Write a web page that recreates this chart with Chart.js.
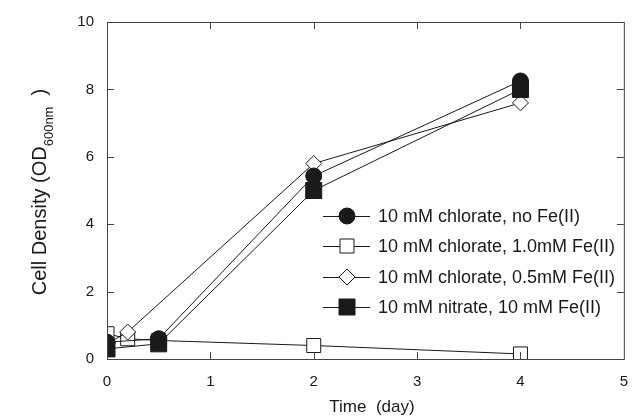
<!DOCTYPE html>
<html>
<head>
<meta charset="utf-8">
<script src="https://cdn.jsdelivr.net/npm/chart.js@4.4.0/dist/chart.umd.min.js"></script>
<style>
    html, body { margin: 0; padding: 0; background: #fff; }
    #wrap { width: 642px; height: 419px; }
</style>
</head>
<body>
<div id="wrap"><canvas id="chart"></canvas></div>
<script>
const xTicks = [0, 1, 2, 3, 4, 5];
const yTicks = [0, 2, 4, 6, 8, 10];

const seriesLabels = [
    "10 mM chlorate, no Fe(II)",
    "10 mM chlorate, 1.0mM Fe(II)",
    "10 mM chlorate, 0.5mM Fe(II)",
    "10 mM nitrate, 10 mM Fe(II)"
];

const noFeDays = [0, 0.5, 2, 4];
const noFeOD = [0.5, 0.6, 5.43, 8.25];

const fe10Days = [0, 0.2, 0.5, 2, 4];
const fe10OD = [0.75, 0.6, 0.55, 0.4, 0.15];

const fe05Days = [0, 0.2, 2, 4];
const fe05OD = [0.45, 0.8, 5.8, 7.6];

const nitrateDays = [0, 0.5, 2, 4];
const nitrateOD = [0.3, 0.45, 5.0, 8.0];

const ink = "#1a1a1a";
const fontFamily = "'Liberation Sans', Arial, sans-serif";

function toPoints(xs, ys) {
    return xs.map((x, i) => ({ x, y: ys[i] }));
}

const markers = [
    { style: "circle", fill: ink, size: 8 },
    { style: "rect", fill: "#fff", size: 7 },
    { style: "rectRot", fill: "#fff", size: 8 },
    { style: "rect", fill: ink, size: 8 }
];

const datasets = [
    toPoints(noFeDays, noFeOD),
    toPoints(fe10Days, fe10OD),
    toPoints(fe05Days, fe05OD),
    toPoints(nitrateDays, nitrateOD)
].map((data, i) => ({
    label: seriesLabels[i],
    data,
    borderColor: ink,
    borderWidth: 1,
    pointStyle: markers[i].style,
    pointRadius: markers[i].style === "rect" ? markers[i].size * Math.SQRT2 : markers[i].size,
    pointBackgroundColor: markers[i].fill,
    pointBorderColor: ink,
    pointBorderWidth: 1,
    order: [1, 3, 2, 0][i],
    tension: 0
}));

function drawMarker(ctx, m, x, y) {
    ctx.save();
    ctx.fillStyle = m.fill;
    ctx.strokeStyle = ink;
    ctx.lineWidth = 1;
    ctx.beginPath();
    if (m.style === "circle") {
        ctx.arc(x, y, m.size, 0, Math.PI * 2);
    } else if (m.style === "rect") {
        ctx.rect(x - m.size, y - m.size, m.size * 2, m.size * 2);
    } else {
        ctx.moveTo(x, y - m.size);
        ctx.lineTo(x + m.size, y);
        ctx.lineTo(x, y + m.size);
        ctx.lineTo(x - m.size, y);
        ctx.closePath();
    }
    ctx.fill();
    ctx.stroke();
    ctx.restore();
}

const framePlugin = {
    id: "frame",
    afterDatasetsDraw(chart) {
        const { ctx, chartArea: a, scales } = chart;
        ctx.save();
        ctx.strokeStyle = "#444";
        ctx.lineWidth = 1;
        ctx.strokeRect(a.left + 0.5, a.top + 0.5, a.right - a.left, a.bottom - a.top);
        ctx.beginPath();
        const t = 7;
        xTicks.slice(1, -1).forEach(v => {
            const px = Math.round(scales.x.getPixelForValue(v)) + 0.5;
            ctx.moveTo(px, a.bottom);
            ctx.lineTo(px, a.bottom - t);
            ctx.moveTo(px, a.top);
            ctx.lineTo(px, a.top + t);
        });
        yTicks.slice(1, -1).forEach(v => {
            const py = Math.round(scales.y.getPixelForValue(v)) + 0.5;
            ctx.moveTo(a.left, py);
            ctx.lineTo(a.left + t, py);
            ctx.moveTo(a.right, py);
            ctx.lineTo(a.right - t, py);
        });
        ctx.stroke();

        // legend inside plot
        const rowY = [216, 246, 277, 307];
        ctx.font = "18px " + fontFamily;
        ctx.textBaseline = "middle";
        seriesLabels.forEach((label, i) => {
            const y = rowY[i];
            ctx.beginPath();
            ctx.strokeStyle = ink;
            ctx.moveTo(323, y + 0.5);
            ctx.lineTo(370, y + 0.5);
            ctx.stroke();
            drawMarker(ctx, markers[i], 347, y);
            ctx.fillStyle = ink;
            ctx.fillText(label, 378, y + 1);
        });

        // axis titles
        ctx.fillStyle = ink;
        ctx.textAlign = "center";
        ctx.font = "17px " + fontFamily;
        ctx.fillText("Time  (day)", 372, 407);

        ctx.translate(40, 192);
        ctx.rotate(-Math.PI / 2);
        ctx.textAlign = "left";
        const main = "Cell Density (OD";
        const sub = "600nm";
        const close = "  )";
        ctx.font = "20px " + fontFamily;
        const w1 = ctx.measureText(main).width;
        const w3 = ctx.measureText(close).width;
        ctx.font = "13px " + fontFamily;
        const w2 = ctx.measureText(sub).width;
        const x0 = -(w1 + w2 + w3) / 2;
        ctx.font = "20px " + fontFamily;
        ctx.fillText(main, x0, 0);
        ctx.fillText(close, x0 + w1 + w2, 0);
        ctx.font = "13px " + fontFamily;
        ctx.fillText(sub, x0 + w1, 9);
        ctx.restore();
    }
};

new Chart(document.getElementById("chart"), {
    type: "line",
    data: { datasets },
    options: {
        responsive: true,
        maintainAspectRatio: false,
        animation: false,
        layout: { padding: { left: 0, top: 17, right: 4, bottom: 0 } },
        plugins: {
            legend: { display: false },
            tooltip: { enabled: false }
        },
        scales: {
            x: {
                type: "linear",
                min: 0,
                max: 5,
                afterFit(scale) { scale.height = 60; },
                afterBuildTicks(scale) { scale.ticks = xTicks.map(v => ({ value: v })); },
                grid: { display: false, drawTicks: false },
                border: { display: false },
                ticks: {
                    color: ink,
                    padding: 14,
                    font: { family: fontFamily, size: 15 }
                }
            },
            y: {
                min: 0,
                max: 10,
                afterFit(scale) { scale.width = 107; },
                afterBuildTicks(scale) { scale.ticks = yTicks.map(v => ({ value: v })); },
                grid: { display: false, drawTicks: false },
                border: { display: false },
                ticks: {
                    color: ink,
                    padding: 13,
                    font: { family: fontFamily, size: 15 }
                }
            }
        }
    },
    plugins: [framePlugin]
});
</script>
</body>
</html>
